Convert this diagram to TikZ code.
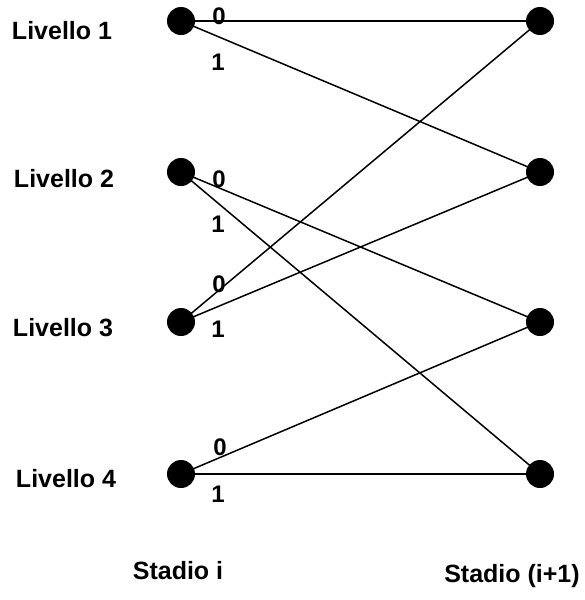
\documentclass[tikz,border=0pt]{standalone}
\usepackage{fontspec}
\setmainfont{Liberation Sans}
\begin{document}
\begin{tikzpicture}[x=1pt,y=-1pt,
  dot/.style={circle,fill=black,inner sep=0pt,minimum size=28pt},
  edge/.style={line width=1.5pt},
  lbl/.style={font=\fontsize{25}{25}\selectfont\bfseries,anchor=base,inner sep=0pt},
  bit/.style={font=\fontsize{24}{24}\selectfont\bfseries,anchor=base,inner sep=0pt}]
\useasboundingbox (0,0) rectangle (585,600);
\node[dot] (l1) at (181,21) {};
\node[dot] (l2) at (181,172) {};
\node[dot] (l3) at (181,322) {};
\node[dot] (l4) at (181,474) {};
\node[dot] (r1) at (540,21) {};
\node[dot] (r2) at (540,172) {};
\node[dot] (r3) at (540,322) {};
\node[dot] (r4) at (540,474) {};
\draw[edge] (l1.center) -- (r1.center);
\draw[edge] (l1.center) -- (r2.center);
\draw[edge] (l2.center) -- (r3.center);
\draw[edge] (l2.center) -- (r4.center);
\draw[edge] (l3.center) -- (r1.center);
\draw[edge] (l3.center) -- (r2.center);
\draw[edge] (l4.center) -- (r3.center);
\draw[edge] (l4.center) -- (r4.center);
\node[lbl] (t1) at (62,39) {Livello 1};
\node[lbl] (t2) at (64,187) {Livello 2};
\node[lbl] (t3) at (63,336) {Livello 3};
\node[lbl] (t4) at (66,487) {Livello 4};
\node[lbl] (s1) at (178,579) {Stadio i};
\node[lbl] (s2) at (512,582) {Stadio (i+1)};
\node[bit] (b10) at (219,24) {0};
\node[bit] (b11) at (218,70) {1};
\node[bit] (b20) at (219,187) {0};
\node[bit] (b21) at (218,232) {1};
\node[bit] (b30) at (219,292) {0};
\node[bit] (b31) at (218,337) {1};
\node[bit] (b40) at (220,455) {0};
\node[bit] (b41) at (218,502) {1};
\end{tikzpicture}
\end{document}
